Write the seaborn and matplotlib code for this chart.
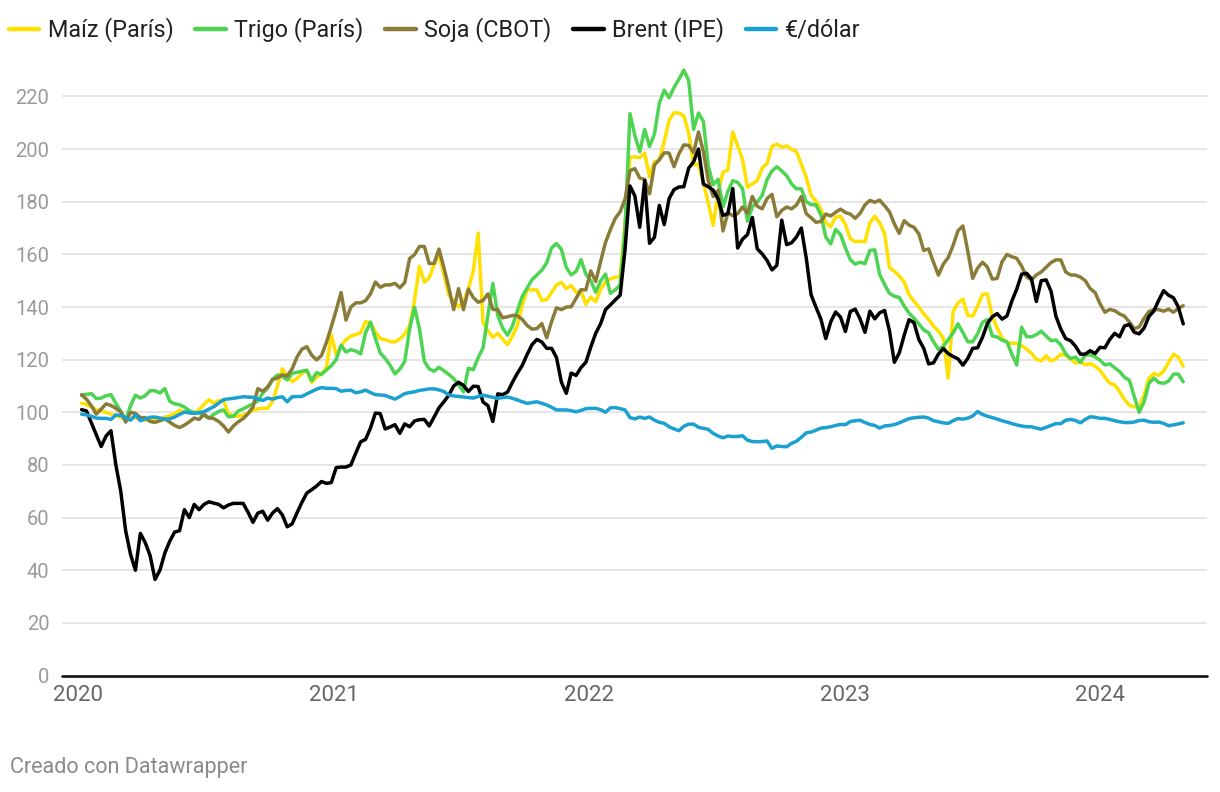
import pandas as pd
import matplotlib
matplotlib.use('Agg')
import matplotlib.pyplot as plt
from matplotlib.lines import Line2D
import seaborn as sns

# weekly index values, base ~100 at start of 2020
fechas = pd.date_range('2020-01-06', periods=226, freq='7D')

maiz = [103.5, 103, 102, 101, 100.5, 100, 99.3, 98.7, 98, 97.3,
        97.5, 98, 97.5, 97, 97, 97.2, 97.6, 98.2, 98.6, 99.5,
        100.8, 100.2, 99.8, 99.6, 101, 103, 104.8, 103.4, 104.5, 104.5,
        99.5, 98.5, 98.5, 99, 99.6, 100.9, 101.3, 101.5, 101.5, 104,
        110, 116.5, 114, 111.6, 112.9, 114.7, 116, 111.4, 113.3, 114.6,
        117, 129.5, 121.8, 125.2, 127.6, 128.9, 129.6, 130.2, 134.5, 134,
        130.6, 128, 127.6, 126.9, 126.7, 127.9, 129.7, 132.8, 142.5, 155.5,
        149.4, 151.1, 156.1, 160, 152.4, 144.6, 142.3, 140, 142, 147,
        153.5, 168, 134, 131, 128.5, 130, 127.8, 125.7, 129, 133,
        140.7, 146.6, 146.5, 146.5, 142.5, 142.8, 145.5, 148.4, 149.4, 147,
        148.2, 145.6, 146.2, 141, 143.8, 142, 146.7, 149.5, 150.7, 151.3,
        151.5, 172, 197, 197, 196.8, 198.5, 189.5, 195.2, 195.7, 203,
        211, 213.8, 213.7, 212.7, 206, 194, 194.3, 187.2, 179.5, 171,
        183.5, 191.2, 192, 206.5, 201.2, 196, 185.5, 186.8, 188, 192.8,
        194.5, 201, 201.9, 200.7, 201.2, 199.9, 199.1, 194.3, 189.3, 182.5,
        180.2, 177.2, 172, 170.5, 174.2, 174.5, 171.4, 166, 164.8, 165,
        164.8, 172, 174.5, 172, 168, 155, 153.6, 151.8, 149.6, 144.7,
        142.2, 140, 137.4, 135.3, 132.8, 130.8, 128.2, 113, 138.3, 141.5,
        143, 136.8, 136.6, 140.3, 144.8, 145, 136.5, 132, 128.3, 126.5,
        126.2, 126.2, 125.3, 124, 122.4, 120.2, 119.5, 121.5, 119.5, 120.3,
        122.1, 121.6, 120.2, 118.7, 119.1, 118.1, 118.5, 117.5, 116, 113.4,
        111, 110.4, 107.9, 104.9, 102.6, 102.1, 102.1, 106.5, 113, 114.7,
        114, 115.6, 119, 122, 121, 117.5]

trigo = [106.6, 106.8, 107.1, 105.2, 105.4, 106.3, 106.7, 103.4, 100.3, 97,
         102.5, 106.5, 105.4, 106.3, 108.2, 108.2, 107.3, 109, 104.2, 103.2,
         102.9, 102, 100.6, 99.9, 99.7, 98.8, 97.7, 99.2, 100.3, 100.9,
         98.3, 98.5, 100.5, 101.3, 102.3, 103.2, 104.3, 107.3, 109.2, 112.4,
         114.2, 113.7, 112.3, 114.8, 115.2, 115.6, 116, 112, 115.1, 114.4,
         116.1, 117.7, 120, 125.5, 122.9, 123.8, 123.3, 122.2, 130.2, 134.3,
         128.1, 122.5, 120.5, 117.9, 114.6, 116.4, 119.3, 131.6, 139.9, 131.8,
         119.4, 116.5, 115.6, 117.1, 115.8, 114.4, 112.8, 110.5, 107.8, 116.7,
         116.2, 120.8, 124.5, 137, 149, 136.8, 132, 129.3, 132.8, 138.6,
         144, 147.2, 150.4, 152.2, 154, 156.8, 162.5, 164.1, 161.9, 155,
         152.2, 153.5, 158, 152.5, 150, 145.6, 149.9, 152.5, 145.2, 146.5,
         148.4, 170, 213.5, 205.2, 199, 207.5, 201, 205.7, 217.5, 222.4,
         219.5, 223.4, 226.5, 230, 226, 207.5, 213.7, 210.5, 193.5, 186.5,
         188.5, 178.1, 183.9, 188, 187.3, 185, 172.6, 178.1, 179.9, 182.4,
         188.4, 191.7, 193.3, 191.7, 189.9, 186.8, 184.9, 184.9, 180, 178.9,
         178.8, 175, 166.6, 164, 169.5, 167.6, 162.5, 158, 156.3, 157,
         156.5, 161.5, 161.7, 152.4, 148.6, 145.2, 144.1, 143.6, 140.4, 137.7,
         135.8, 133.6, 131.3, 130.2, 126.8, 123.9, 125, 127.6, 130.1, 133.6,
         130.3, 126.8, 126.8, 129.8, 134.2, 135.2, 129, 128.6, 127.4, 126.8,
         122.1, 118, 132.3, 128.7, 128.7, 129.5, 130.8, 129, 127.2, 127.5,
         125.6, 122.2, 120.4, 121, 119, 121.8, 121.8, 121.1, 119.8, 118,
         118.4, 116.9, 115.5, 113.3, 112.2, 106, 100, 104, 111, 113,
         111.3, 111, 111.8, 114.5, 114.5, 111.6]

soja = [106.6, 105, 102.5, 99.3, 101.2, 103.2, 102.6, 101.5, 100.2, 96.3,
        100, 99.6, 98, 98, 96.5, 96.2, 96.8, 97.5, 96.3, 95,
        94.2, 95.1, 96.4, 97.8, 97.3, 99.2, 97.9, 97.6, 96.5, 94.8,
        92.5, 94.8, 96.4, 97.6, 99.5, 102, 109, 108, 109.6, 112.5,
        113, 114.2, 113.8, 116.5, 121, 124, 124.9, 121.7, 119.9, 121.6,
        126.5, 132.5, 138.8, 145.5, 135, 140, 141.6, 141.6, 142.4, 145,
        149.5, 147.5, 148.4, 148.4, 149, 147.3, 149.3, 158.4, 159.9, 163,
        163, 156.5, 156.6, 162, 155, 147.4, 139, 147, 139, 146.8,
        143.6, 141.8, 142.5, 145, 139.1, 139, 135.9, 136.3, 136.8, 136.7,
        135.3, 133, 131.6, 131.8, 133.7, 128.3, 134.5, 139.7, 139, 140,
        140.1, 143.3, 146.6, 146.5, 153.7, 149.7, 157.2, 164.5, 169.4, 173.7,
        176.2, 181, 191.8, 192.6, 189, 188.5, 183, 193.9, 196, 198.6,
        198.5, 193.3, 198.2, 201.6, 201.4, 198.7, 206.5, 199, 188, 182,
        184.3, 168.9, 175.8, 174.7, 175.5, 178, 175.6, 182, 178.3, 177.3,
        181.2, 182.8, 174.3, 176.7, 178, 177.3, 178.7, 182, 175.5, 173.9,
        172.2, 172.5, 175.3, 174.6, 176, 177.2, 175.9, 175.3, 173.7, 175.6,
        178.8, 180.5, 179.8, 180.6, 178.5, 176.2, 171.6, 168, 172.8, 171.1,
        170.3, 167.8, 161.5, 162.1, 157, 152.1, 156.3, 158.8, 163.4, 169,
        170.8, 161.2, 150.9, 154.8, 157, 155.2, 150.6, 150.9, 157.2, 160,
        159.1, 158.5, 155.5, 151.5, 150.3, 152.2, 153.3, 155.1, 156.9, 157.9,
        157.9, 153.3, 152.2, 152.1, 151.4, 150, 147, 145.5, 141.3, 138,
        139.1, 138.6, 137.4, 136.5, 134.3, 131.8, 132.4, 135.7, 138.3, 139,
        139, 138.4, 139.2, 138, 139.5, 140.5]

brent = [101, 100.5, 96, 91.5, 87, 91, 93, 80, 70, 55,
         46, 40, 54, 50.5, 45.5, 36.5, 40, 46.5, 51, 54.5,
         55, 63, 60, 65, 63, 65, 66, 65.5, 65, 63.7,
         64.8, 65.4, 65.4, 65.4, 62, 58.2, 61.7, 62.4, 59, 61.7,
         63.4, 61, 56.5, 57.6, 61.8, 65.8, 69.3, 70.6, 72, 73.7,
         73, 73.3, 79, 79.2, 79.2, 80, 84.5, 88.8, 89.7, 94,
         99.7, 99.5, 93.7, 94.4, 95.3, 92, 95.6, 94.5, 96.7, 97.2,
         97.3, 94.8, 98.2, 101.7, 104, 106.5, 110, 111.4, 110.2, 107.9,
         109.9, 109.8, 103.9, 102.5, 96.5, 107, 106.7, 107.7, 111.4, 114.8,
         117.8, 122, 125.7, 127.7, 126.7, 124.3, 124.3, 120.8, 111.4, 107.2,
         114.9, 114, 117, 119, 124.8, 130, 133.6, 139, 140.8, 142.7,
         144.5, 162, 186, 182.2, 170.3, 188, 164.2, 166.5, 178.6, 171.3,
         181.2, 184.6, 185.6, 185.7, 192.8, 195.2, 200, 186.7, 185.7, 184.4,
         181, 174.8, 175.5, 185, 162.4, 165.8, 167.5, 174, 162.1, 160.2,
         157.7, 154.1, 155.8, 173, 163.7, 164.4, 166.6, 170, 158.7, 144.6,
         139.9, 135.4, 128, 134.3, 138.1, 136.2, 130.7, 138.3, 139.2, 135.5,
         130.4, 138.4, 135.5, 137.8, 138.7, 131, 119, 122.5, 129.2, 135.2,
         134.1, 127.7, 124.3, 118.4, 118.8, 122.1, 124.2, 122.3, 121.2, 120.3,
         117.9, 120.5, 124.3, 124.5, 128.5, 133.7, 136.3, 137.5, 135.4, 136.6,
         142.3, 146.8, 152.5, 152.8, 150.7, 142.1, 150, 150.3, 146, 136.5,
         131.6, 128, 127.2, 125.1, 122.1, 122.1, 123.4, 122.3, 124.7, 124.5,
         127.7, 130, 128.7, 132.8, 133.4, 130.4, 129.8, 132, 136.4, 138.5,
         142.6, 146.2, 144.5, 143.5, 140, 133.6]

euro_dolar = [99.3, 99, 98.5, 97.8, 97.7, 97.7, 97.3, 99, 98.8, 97.9,
              97, 99, 96.8, 97.5, 98.1, 98.2, 97.8, 97.4, 97.5, 98.2,
              99.2, 100.1, 99.8, 99.6, 99.9, 100.2, 101.2, 102.1, 103.5, 104.8,
              105.1, 105.3, 105.6, 105.9, 105.8, 105.7, 105.1, 104.5, 105.4, 105,
              105.6, 105.9, 104, 105.9, 106, 106, 107, 107.9, 108.8, 109.4,
              109.1, 109.1, 109, 108, 108.3, 108.4, 107.4, 107.8, 108.4, 107.5,
              106.7, 106.6, 106.4, 105.7, 105, 106, 107.1, 107.5, 107.8, 108.3,
              108.6, 108.9, 108.9, 108.5, 107.9, 106.6, 106.2, 106, 105.8, 105.6,
              105.4, 106, 106.5, 106.1, 105.7, 105.3, 105.6, 105.8, 105.3, 104.7,
              104, 103.4, 103.7, 104, 103.4, 102.8, 101.9, 100.9, 100.9, 100.9,
              100.6, 100.2, 100.7, 101.4, 101.5, 101.5, 101, 100, 101.7, 101.8,
              101.4, 100.9, 98, 97.5, 98.2, 97.7, 98.2, 97, 96.2, 95.8,
              94.5, 93.7, 93, 94.7, 95.5, 95.5, 94.3, 93.9, 93.5, 92,
              91, 90.3, 91, 90.8, 90.8, 91.1, 89.4, 88.9, 88.8, 88.9,
              89.1, 86.3, 87.2, 87, 86.9, 88.2, 89, 90.5, 92.2, 92.5,
              93.2, 94, 94.2, 94.5, 95, 95.4, 95.3, 96.5, 96.8, 97,
              96.1, 95.4, 95, 94, 94.8, 95, 95.3, 96, 96.8, 97.6,
              97.9, 98.1, 98.2, 97.8, 96.8, 96.4, 96, 95.8, 96.8, 97.6,
              97.4, 97.8, 98.6, 100.3, 99.2, 98.5, 98, 97.4, 96.8, 96.3,
              95.7, 95.2, 94.8, 94.5, 94.5, 94, 93.6, 94.3, 95, 95.7,
              95.7, 97, 97.3, 96.9, 96, 97.3, 98.3, 98.1, 97.7, 97.7,
              97.3, 96.8, 96.4, 96.1, 96.1, 96.3, 96.9, 97, 96.4, 96.2,
              96.3, 95.8, 94.9, 95.2, 95.6, 96]

series = ['Maíz (París)', 'Trigo (París)', 'Soja (CBOT)', 'Brent (IPE)', '€/dólar']
colores = ['#ffe000', '#4cd452', '#8a7c38', '#000000', '#1aa1d1']
anios = ['2020', '2021', '2022', '2023', '2024']

df = pd.DataFrame({'fecha': fechas, series[0]: maiz, series[1]: trigo,
                   series[2]: soja, series[3]: brent, series[4]: euro_dolar})
df = df.melt(id_vars='fecha', var_name='serie', value_name='valor')

sns.set_style('white')
plt.rcParams['font.family'] = ['Roboto', 'DejaVu Sans']

fig = plt.figure(figsize=(12.2, 7.92), dpi=100)
ax = fig.add_axes([62 / 1220, 1 - 675.5 / 792, (1207 - 62) / 1220, 240 * 2.632 / 792])

sns.lineplot(data=df, x='fecha', y='valor', hue='serie', hue_order=series,
             palette=colores, linewidth=2.5, legend=False, ax=ax,
             solid_joinstyle='round', solid_capstyle='round')

ax.set_xlim(pd.Timestamp('2019-12-09'), pd.Timestamp('2024-06-02'))
ax.set_ylim(0, 240)
ax.set_yticks(range(0, 221, 20))
ax.set_xticks([pd.Timestamp(a + '-01-01') for a in anios])
ax.set_xticklabels(anios)
ax.set_xlabel('')
ax.set_ylabel('')

ax.grid(axis='y', color='#e3e3e3', lw=1.3)
ax.grid(axis='x', visible=False)
for s in ax.spines.values():
    s.set_visible(False)
ax.axhline(0, color='#111111', lw=1.9, clip_on=False, zorder=5)

ax.tick_params(axis='y', length=0, pad=9, labelsize=14.5, labelcolor='#9a9a9a')
ax.tick_params(axis='x', length=0, pad=7, labelsize=16, labelcolor='#666666')

handles = [Line2D([0], [0], color=c, lw=3.2, solid_capstyle='round') for c in colores]
fig.legend(handles, series, loc='center left', bbox_to_anchor=(9 / 1220, 1 - 30 / 792),
           ncol=5, frameon=False, fontsize=16.8, handlelength=1.3, handletextpad=0.35,
           columnspacing=0.95, borderaxespad=0, borderpad=0, labelcolor='#222222')

fig.text(10 / 1220, 1 - 768 / 792, 'Creado con Datawrapper', color='#8a8a8a',
         fontsize=15.5, va='center')

fig.savefig('out.png', dpi=100)
